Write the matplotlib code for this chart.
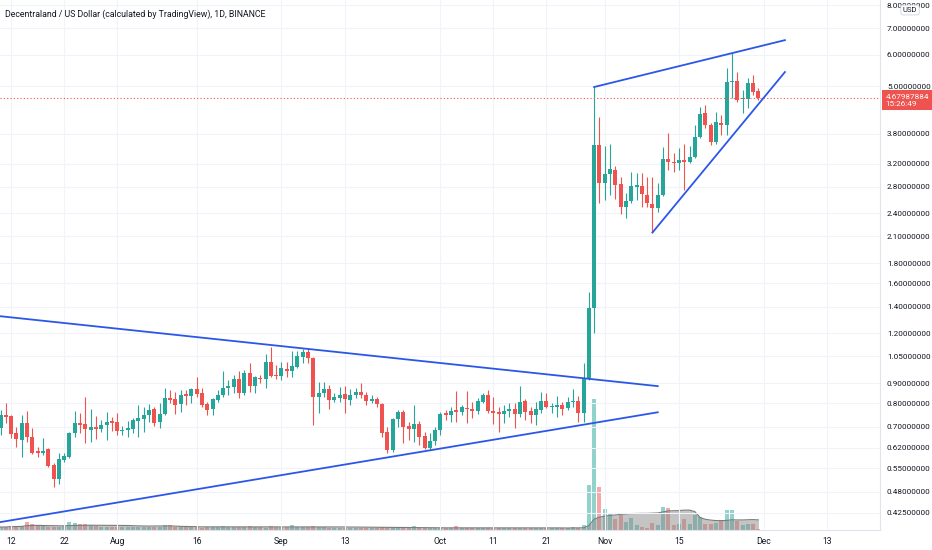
import numpy as np
import pandas as pd
import matplotlib
matplotlib.use("Agg")
import matplotlib.pyplot as plt
from matplotlib.ticker import FixedLocator, FixedFormatter, NullLocator

plt.rcParams['font.family'] = ['Roboto', 'DejaVu Sans']

# daily MANA/USD candles, first candle 2021-07-10
start = pd.Timestamp("2021-07-10")

opens = [0.694, 0.748, 0.743, 0.674, 0.647, 0.714, 0.658, 0.607, 0.600, 0.614,
         0.560, 0.517, 0.576, 0.587, 0.674, 0.714, 0.710, 0.686, 0.698, 0.690,
         0.706, 0.722, 0.718, 0.682, 0.686, 0.690, 0.722, 0.731, 0.748, 0.774,
         0.718, 0.752, 0.825, 0.820, 0.797, 0.844, 0.834, 0.869, 0.849, 0.797,
         0.774, 0.815, 0.839, 0.874, 0.879, 0.920, 0.849, 0.953, 0.884, 0.926,
         0.920, 1.016, 0.942, 0.937, 0.975, 0.964, 0.987, 1.046, 1.077, 1.040,
         0.829, 0.849, 0.869, 0.815, 0.825, 0.844, 0.815, 0.839, 0.854, 0.839,
         0.811, 0.820, 0.797, 0.678, 0.611, 0.731, 0.761, 0.702, 0.690, 0.710,
         0.662, 0.618, 0.643, 0.686, 0.756, 0.748, 0.769, 0.761, 0.778, 0.774,
         0.765, 0.806, 0.839, 0.765, 0.761, 0.752, 0.765, 0.774, 0.752, 0.811,
         0.765, 0.748, 0.769, 0.811, 0.783, 0.783, 0.792, 0.778, 0.806, 0.811,
         0.756, 0.926, 1.388, 3.562, 2.860, 3.013, 3.083, 2.843, 2.489, 2.577,
         2.794, 2.810, 2.668, 2.533, 2.475, 2.668, 3.285, 3.229, 3.210, 3.266,
         3.229, 3.323, 3.731, 4.285, 3.998, 3.625, 4.045, 3.998, 5.126, 5.156,
         4.646, 4.646, 5.097, 4.866]

highs = [0.769, 0.801, 0.748, 0.698, 0.748, 0.765, 0.694, 0.621, 0.655, 0.618,
         0.567, 0.600, 0.600, 0.678, 0.765, 0.756, 0.829, 0.774, 0.743, 0.726,
         0.761, 0.739, 0.756, 0.702, 0.722, 0.735, 0.792, 0.783, 0.797, 0.783,
         0.801, 0.874, 0.864, 0.854, 0.864, 0.864, 0.874, 0.931, 0.874, 0.806,
         0.825, 0.864, 0.964, 0.915, 0.942, 0.964, 0.970, 1.010, 0.937, 0.942,
         1.064, 1.108, 0.998, 1.016, 1.016, 1.083, 1.083, 1.095, 1.102, 1.046,
         0.905, 0.905, 0.889, 0.849, 0.879, 0.884, 0.869, 0.874, 0.899, 0.854,
         0.839, 0.829, 0.801, 0.698, 0.735, 0.769, 0.769, 0.718, 0.792, 0.722,
         0.678, 0.674, 0.698, 0.761, 0.769, 0.783, 0.859, 0.792, 0.859, 0.806,
         0.825, 0.849, 0.864, 0.829, 0.783, 0.792, 0.801, 0.801, 0.884, 0.820,
         0.783, 0.806, 0.854, 0.849, 0.801, 0.834, 0.806, 0.829, 0.869, 0.834,
         1.010, 1.523, 4.980, 4.187, 3.542, 3.583, 3.155, 2.961, 2.698, 3.048,
         3.030, 3.030, 2.961, 2.961, 2.860, 3.521, 3.818, 3.401, 3.501, 3.583,
         3.542, 3.998, 4.436, 4.488, 4.045, 4.310, 4.236, 5.558, 6.062, 5.431,
         4.894, 5.246, 5.338, 4.951]

lows = [0.666, 0.714, 0.655, 0.621, 0.587, 0.640, 0.597, 0.587, 0.593, 0.554,
        0.493, 0.502, 0.570, 0.583, 0.658, 0.674, 0.636, 0.640, 0.651, 0.678,
        0.647, 0.682, 0.666, 0.666, 0.658, 0.674, 0.658, 0.678, 0.718, 0.702,
        0.694, 0.748, 0.801, 0.752, 0.761, 0.792, 0.801, 0.829, 0.783, 0.748,
        0.748, 0.806, 0.829, 0.839, 0.849, 0.825, 0.839, 0.854, 0.849, 0.899,
        0.874, 0.931, 0.920, 0.915, 0.931, 0.931, 0.981, 1.010, 1.010, 0.706,
        0.756, 0.829, 0.774, 0.806, 0.806, 0.756, 0.792, 0.825, 0.825, 0.792,
        0.801, 0.783, 0.658, 0.600, 0.604, 0.698, 0.636, 0.647, 0.640, 0.629,
        0.614, 0.611, 0.629, 0.666, 0.726, 0.718, 0.718, 0.748, 0.714, 0.735,
        0.752, 0.801, 0.756, 0.710, 0.678, 0.714, 0.739, 0.694, 0.739, 0.726,
        0.714, 0.706, 0.756, 0.778, 0.756, 0.739, 0.748, 0.769, 0.783, 0.718,
        0.718, 0.915, 1.202, 2.547, 2.592, 2.668, 2.607, 2.390, 2.336, 2.547,
        2.592, 2.489, 2.489, 2.150, 2.418, 2.652, 3.083, 3.048, 3.083, 2.745,
        3.210, 3.304, 3.709, 3.930, 3.562, 3.583, 3.774, 3.774, 4.673, 4.567,
        4.285, 4.411, 4.755, 4.620]

closes = [0.748, 0.739, 0.670, 0.651, 0.714, 0.658, 0.600, 0.600, 0.607, 0.557,
          0.517, 0.580, 0.590, 0.674, 0.714, 0.706, 0.690, 0.698, 0.690, 0.706,
          0.718, 0.714, 0.682, 0.686, 0.694, 0.726, 0.735, 0.748, 0.769, 0.714,
          0.752, 0.825, 0.815, 0.792, 0.839, 0.834, 0.869, 0.844, 0.792, 0.769,
          0.820, 0.839, 0.874, 0.884, 0.920, 0.849, 0.953, 0.884, 0.931, 0.920,
          1.016, 0.937, 0.937, 0.981, 0.964, 0.992, 1.052, 1.077, 1.040, 0.829,
          0.849, 0.869, 0.815, 0.829, 0.839, 0.820, 0.839, 0.854, 0.839, 0.811,
          0.820, 0.797, 0.674, 0.611, 0.731, 0.761, 0.698, 0.690, 0.710, 0.658,
          0.618, 0.643, 0.686, 0.752, 0.748, 0.765, 0.761, 0.783, 0.774, 0.765,
          0.811, 0.839, 0.765, 0.756, 0.752, 0.765, 0.774, 0.752, 0.806, 0.761,
          0.748, 0.774, 0.811, 0.783, 0.787, 0.792, 0.774, 0.806, 0.811, 0.756,
          0.926, 1.388, 3.562, 2.860, 3.013, 3.101, 2.826, 2.489, 2.577, 2.810,
          2.826, 2.683, 2.547, 2.475, 2.668, 3.285, 3.229, 3.210, 3.266, 3.229,
          3.323, 3.731, 4.260, 3.998, 3.625, 4.068, 3.998, 5.126, 5.156, 4.620,
          4.673, 5.097, 4.838, 4.680]

# volume, millions
volume = [30, 30, 40, 40, 40, 80, 60, 50, 40, 30, 30, 30, 40, 80, 70, 60, 60, 50, 40, 30,
          30, 30, 30, 30, 30, 30, 30, 30, 30, 30, 30, 50, 50, 30, 30, 30, 30, 30, 20, 30,
          30, 30, 40, 30, 30, 30, 30, 40, 30, 30, 20, 40, 30, 30, 30, 50, 30, 30, 30, 40,
          30, 30, 20, 20, 20, 20, 20, 20, 20, 20, 20, 20, 30, 20, 20, 20, 20, 20, 40, 20,
          20, 20, 20, 20, 20, 20, 40, 20, 20, 20, 20, 20, 20, 20, 20, 20, 20, 20, 20, 20,
          20, 20, 20, 20, 20, 20, 20, 20, 30, 20,
          50, 450, 1310, 430, 210, 170, 110, 150, 80, 120, 50, 30, 20, 70, 50, 230, 220,
          50, 60, 110, 60, 150, 130, 60, 60, 70, 100, 200, 200, 90, 50, 60, 60, 10]

# drawn trend lines (date, price)
wedge_top = [("2021-07-10", 1.324), ("2021-11-11", 0.884)]
wedge_bottom = [("2021-07-10", 0.403), ("2021-11-11", 0.760)]
channel_top = [("2021-10-30", 4.98), ("2021-12-05", 6.53)]
channel_bottom = [("2021-11-10", 2.147), ("2021-12-05", 5.43)]

price_ticks = [0.425, 0.48, 0.55, 0.62, 0.70, 0.80, 0.90, 1.05, 1.20, 1.40, 1.60,
               1.80, 2.10, 2.40, 2.80, 3.20, 3.80, 5.00, 6.00, 7.00, 8.00]
date_ticks = ["2021-07-12", "2021-07-22", "2021-08-01", "2021-08-16", "2021-09-01",
              "2021-09-13", "2021-10-01", "2021-10-11", "2021-10-21", "2021-11-01",
              "2021-11-15", "2021-12-01", "2021-12-13"]
date_labels = ["12", "22", "Aug", "16", "Sep", "13", "Oct", "11", "21", "Nov",
               "15", "Dec", "13"]

GREEN = "#26a69a"
RED = "#ef5350"
BLUE = "#2b57e8"
TXT = "#131722"


def day(d):
    return (pd.Timestamp(d) - start).days


o = np.array(opens)
h = np.array(highs)
l = np.array(lows)
c = np.array(closes)
v = np.array(volume, dtype=float)
x = np.arange(len(c))
up = c >= o
cols = np.where(up, GREEN, RED)

fig = plt.figure(figsize=(9.32, 5.5), dpi=100)
ax = fig.add_axes([0, 20 / 550, 880 / 932, 530 / 550])
vax = ax.twinx()
ax.set_zorder(2)
vax.set_zorder(1)
ax.patch.set_visible(False)

# volume + 20 day average
vax.bar(x, v, width=0.75, color=cols, alpha=0.5, linewidth=0)
ma = pd.Series(v).rolling(20, min_periods=1).mean()
vax.fill_between(x, 0, ma, color="#8a8a8a", alpha=0.5, linewidth=0)
vax.plot(x, ma, color="#7a7a7a", lw=0.8)
vax.set_ylim(0, 5300)
vax.yaxis.set_visible(False)
for s in vax.spines.values():
    s.set_visible(False)

# candles
ax.set_yscale("log")
ax.vlines(x, l, h, colors=cols, lw=0.8)
body_lo = np.minimum(o, c)
body_h = np.maximum(np.abs(c - o), body_lo * 0.006)
ax.bar(x, body_h, bottom=body_lo, width=0.76, color=cols, linewidth=0)

for line in (wedge_top, wedge_bottom, channel_top, channel_bottom):
    ax.plot([day(d) for d, _ in line], [p for _, p in line], color=BLUE, lw=1.3)

ax.axhline(c[-1], color=RED, lw=0.8, ls=(0, (1, 2)))

ax.set_xlim(-0.1, 165.94)
ax.set_ylim(0.3849, 8.235)

ax.yaxis.tick_right()
ax.yaxis.set_major_locator(FixedLocator(price_ticks))
ax.yaxis.set_major_formatter(FixedFormatter(["%.8f" % t for t in price_ticks]))
ax.yaxis.set_minor_locator(NullLocator())
ax.set_xticks([day(d) for d in date_ticks])
ax.set_xticklabels(date_labels)
ax.tick_params(axis="y", length=0, pad=5, labelsize=5.9, labelcolor=TXT)
ax.tick_params(axis="x", length=0, pad=5, labelsize=6.2, labelcolor=TXT)
ax.grid(True, color="#f0f3fa", lw=0.8)
ax.set_axisbelow(True)
for k in ("top", "left"):
    ax.spines[k].set_visible(False)
ax.spines["right"].set_color("#e0e3eb")
ax.spines["bottom"].set_color("#e0e3eb")
ax.spines["right"].set_linewidth(0.8)
ax.spines["bottom"].set_linewidth(0.8)

# last price tag
ax.annotate("%.8f\n15:26:49" % 4.67987884, xy=(1, c[-1]),
            xycoords=ax.get_yaxis_transform(), xytext=(4.0, -1.8),
            textcoords="offset points", ha="left", va="center",
            fontsize=5.9, color="white", linespacing=1.25, annotation_clip=False,
            bbox=dict(boxstyle="square,pad=0.4", fc=RED, ec="none"))

fig.text(910 / 932, 1 - 10 / 550, "USD", ha="center", va="center", fontsize=5.5,
         color=TXT, bbox=dict(boxstyle="round,pad=0.25", fc="white",
                              ec="#d1d4dc", lw=0.6))
fig.text(5 / 932, 1 - 14 / 550,
         "Decentraland / US Dollar (calculated by TradingView), 1D, BINANCE",
         fontsize=6.3, va="center", ha="left", color=TXT)

fig.savefig("out.png", dpi=100)
